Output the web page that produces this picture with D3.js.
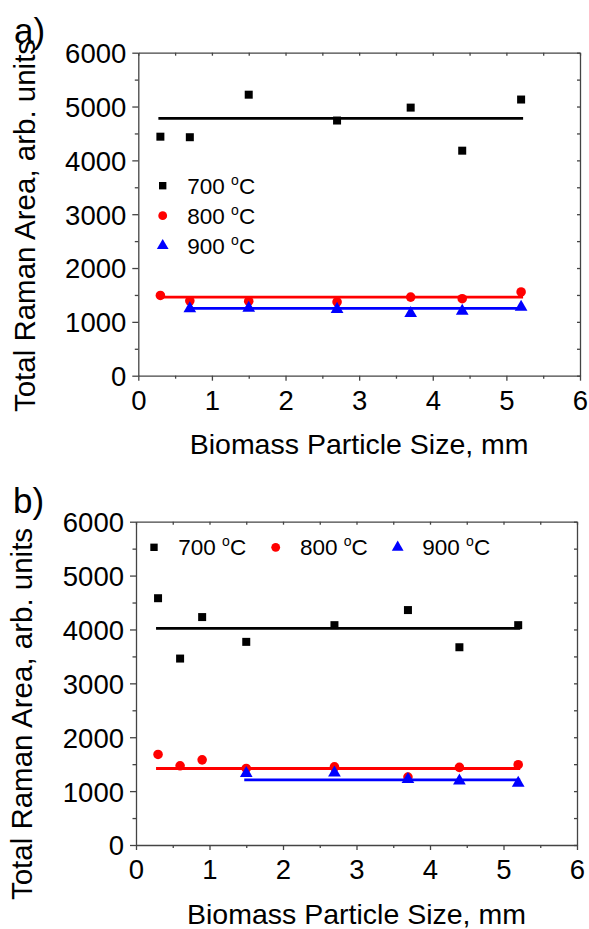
<!DOCTYPE html>
<meta charset="UTF-8">
<style>
  body { margin: 0; background: #fff; }
  svg text { font-family: Arial, "Liberation Sans", sans-serif; fill: #000; }
  .axis path, .axis line { stroke: #444; stroke-width: 1.3px; }
  .fit { stroke-width: 2.8px; }
</style>
<body>
<script src="https://d3js.org/d3.v7.min.js"></script>
<script>

// ---- panel a) values ----
var sizesA    = [0.3, 0.7, 1.5, 2.7, 3.7, 4.4, 5.2];
var a700      = [4440, 4430, 5220, 4740, 4980, 4180, 5130];
var a800      = [1490, 1390, 1385, 1370, 1460, 1430, 1555];
var sizesA900 = [0.7, 1.5, 2.7, 3.7, 4.4, 5.2];
var a900      = [1245, 1255, 1235, 1160, 1200, 1275];
var fitA      = [4780, 1460, 1250];   // horizontal fit levels 700/800/900

// ---- panel b) ----
var sizesB    = [0.3, 0.6, 0.9, 1.5, 2.7, 3.7, 4.4, 5.2];
var b700      = [4580, 3460, 4230, 3770, 4080, 4360, 3670, 4080];
var b800      = [1680, 1470, 1580, 1420, 1450, 1260, 1440, 1490];
var sizesB900 = [1.5, 2.7, 3.7, 4.4, 5.2];
var b900      = [1330, 1340, 1220, 1190, 1150];
var fitB      = [4020, 1420, 1210];

var temps   = ["700", "800", "900"];
var xTicks  = [0, 1, 2, 3, 4, 5, 6];
var yTicks  = [0, 1000, 2000, 3000, 4000, 5000, 6000];
var xTitle  = "Biomass Particle Size, mm";
var yTitle  = "Total Raman Area, arb. units";

var colors  = ["#000000", "#ff0000", "#0000ff"];
var symbols = [d3.symbolSquare, d3.symbolCircle, d3.symbolTriangle];
var symSize = [64, 72, 70];

var svg = d3.select("body").append("svg")
    .attr("width", 589)
    .attr("height", 929);

function drawPanel(p) {
  var x = d3.scaleLinear().domain([0, 6]).range([p.left, p.left + p.w]);
  var y = d3.scaleLinear().domain([0, 6000]).range([p.top + p.h, p.top]);
  var g = svg.append("g");

  var halfX = d3.range(0.5, 6, 1);
  var halfY = d3.range(500, 6000, 1000);

  // mirror axes (top / right) with small inward ticks
  g.append("g").attr("class", "axis")
      .attr("transform", "translate(0," + p.top + ")")
      .call(d3.axisTop(x).tickValues(d3.range(0, 6.01, 0.5)).tickSize(-3).tickSizeOuter(0).tickFormat(""));
  g.append("g").attr("class", "axis")
      .attr("transform", "translate(" + (p.left + p.w) + ",0)")
      .call(d3.axisRight(y).tickValues(d3.range(0, 6001, 500)).tickSize(-3).tickSizeOuter(0).tickFormat(""));

  // bottom axis
  var bx = g.append("g").attr("class", "axis")
      .attr("transform", "translate(0," + (p.top + p.h) + ")");
  bx.call(d3.axisBottom(x).tickValues(xTicks).tickSize(5).tickSizeOuter(0).tickFormat(d3.format("d")));
  bx.append("g").call(d3.axisBottom(x).tickValues(halfX).tickSize(3).tickFormat(""))
    .select(".domain").remove();
  bx.selectAll("text").attr("y", 34).attr("dy", 0)
      .attr("font-size", 27.5).attr("font-family", null).attr("fill", "#000");

  // left axis
  var ly = g.append("g").attr("class", "axis")
      .attr("transform", "translate(" + p.left + ",0)");
  ly.call(d3.axisLeft(y).tickValues(yTicks).tickSize(6).tickPadding(6).tickSizeOuter(0).tickFormat(d3.format("d")));
  ly.append("g").call(d3.axisLeft(y).tickValues(halfY).tickSize(3.5).tickFormat(""))
    .select(".domain").remove();
  ly.selectAll("text").attr("dy", "0.36em")
      .attr("font-size", 27.5).attr("font-family", null).attr("fill", "#000");

  // series: fit line + markers
  p.series.forEach(function(s, i) {
    var ext = d3.extent(s.xs);
    g.append("line").attr("class", "fit")
        .attr("x1", x(ext[0]) - 2).attr("x2", x(ext[1]) + 2)
        .attr("y1", y(p.fits[i])).attr("y2", y(p.fits[i]))
        .attr("stroke", colors[i]);
    g.selectAll("path.pt" + i)
      .data(d3.zip(s.xs, s.vs))
      .join("path")
        .attr("class", "pt" + i)
        .attr("d", d3.symbol(symbols[i], symSize[i]))
        .attr("transform", function(d) { return "translate(" + x(d[0]) + "," + y(d[1]) + ")"; })
        .attr("fill", colors[i]);
  });

  // legend
  temps.forEach(function(t, i) {
    var L = p.legend[i];
    g.append("path")
        .attr("d", d3.symbol(symbols[i], symSize[i] * 0.85))
        .attr("transform", "translate(" + L[0] + "," + L[1] + ")")
        .attr("fill", colors[i]);
    var txt = g.append("text")
        .attr("x", L[2]).attr("y", L[1] + 7.8)
        .attr("font-size", 22.5)
        .text(t + " ");
    txt.append("tspan").attr("font-size", 14).attr("dy", -9).text("o");
    txt.append("tspan").attr("dy", 9).text("C");
  });

  // titles
  g.append("text")
      .attr("x", p.left + p.w / 2).attr("y", p.xTitleY)
      .attr("text-anchor", "middle").attr("font-size", 28.5)
      .text(xTitle);
  g.append("text")
      .attr("transform", "translate(" + p.yTitleX + "," + p.yTitleY + ") rotate(-90)")
      .attr("text-anchor", "middle").attr("font-size", 29.5)
      .text(yTitle);
  g.append("text")
      .attr("x", p.letter[0]).attr("y", p.letter[1])
      .attr("font-size", 35)
      .text(p.name);
}

drawPanel({
  name: "a)", letter: [14, 43],
  left: 138.3, top: 52.7, w: 441.7, h: 323,
  xTitleY: 454, yTitleX: 35, yTitleY: 226,
  series: [
    {xs: sizesA, vs: a700},
    {xs: sizesA, vs: a800},
    {xs: sizesA900, vs: a900}
  ],
  fits: fitA,
  legend: [[162.7, 185.7, 187.3], [162.7, 215.7, 187.3], [162.7, 245.7, 187.3]]
});

drawPanel({
  name: "b)", letter: [13, 513],
  left: 136, top: 521.7, w: 441, h: 323.3,
  xTitleY: 924, yTitleX: 32, yTitleY: 714,
  series: [
    {xs: sizesB, vs: b700},
    {xs: sizesB, vs: b800},
    {xs: sizesB900, vs: b900}
  ],
  fits: fitB,
  legend: [[154, 547.3, 178.3], [275.7, 547.3, 300], [397.7, 547.3, 422.3]]
});

</script>
</body>
